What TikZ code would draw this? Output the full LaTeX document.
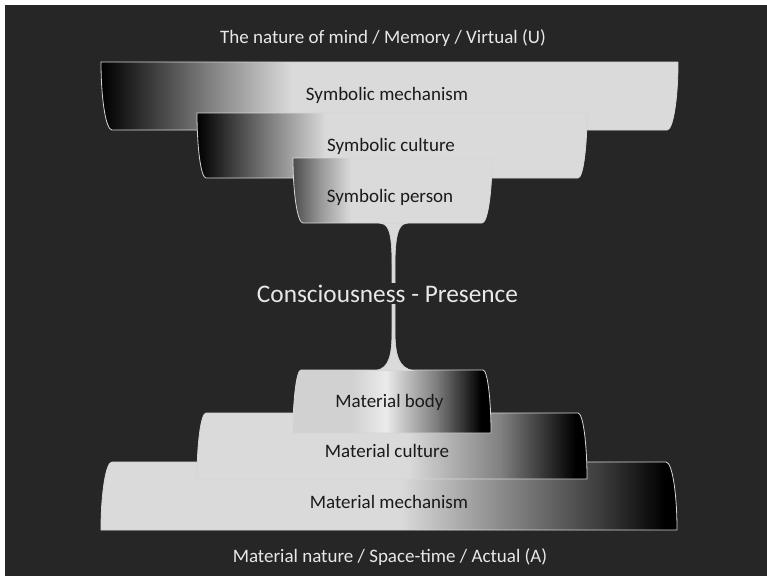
\documentclass[tikz,border=0pt]{standalone}
\usepackage{fontspec}
\setmainfont{Carlito}

\definecolor{bg}{RGB}{38,38,38}
\definecolor{slablight}{RGB}{218,218,218}
\definecolor{slabedge}{RGB}{214,214,214}
\definecolor{labeltext}{RGB}{232,232,232}
\definecolor{slabtext}{RGB}{26,26,26}

% Horizontal shadings: the path's bounding box maps onto 25bp..75bp
\pgfdeclarehorizontalshading{symwide}{100bp}{%
  color(0bp)=(black); color(25bp)=(black); color(26bp)=(black!95);
  color(34bp)=(black!52); color(41.5bp)=(slablight); color(100bp)=(slablight)}
\pgfdeclarehorizontalshading{symnarrow}{100bp}{%
  color(0bp)=(black!70); color(25bp)=(black!70);
  color(32bp)=(black!40); color(39.5bp)=(slablight); color(100bp)=(slablight)}
\pgfdeclarehorizontalshading{matwide}{100bp}{%
  color(0bp)=(slablight); color(51bp)=(slablight);
  color(59.5bp)=(black!45); color(68.5bp)=(black!77); color(74bp)=(black); color(100bp)=(black)}
\pgfdeclarehorizontalshading{matmid}{100bp}{%
  color(0bp)=(slablight); color(52bp)=(slablight);
  color(64bp)=(black!50); color(73.5bp)=(black); color(100bp)=(black)}
\pgfdeclarehorizontalshading{matnarrow}{100bp}{%
  color(0bp)=(black!18); color(40bp)=(black!18); color(48.5bp)=(black!8);
  color(52bp)=(black!20); color(61bp)=(black!50); color(72.5bp)=(black); color(100bp)=(black)}

% Slab hanging from the top: #1 left, #2 right, #3 top, #4 bottom, #5 corner inset, #6 style
\newcommand\TopSlab[6]{%
  \path[#6] (#1,#3) -- (#2,#3)
    .. controls (#2,{#3+0.552*(#4-#3)}) and ({#2-0.448*#5},#4) .. ({#2-#5},#4)
    -- ({#1+#5},#4)
    .. controls ({#1+0.448*#5},#4) and (#1,{#3+0.552*(#4-#3)}) .. cycle;}
% Slab standing on the bottom: same arguments
\newcommand\BotSlab[6]{%
  \path[#6] (#1,#4)
    .. controls (#1,{#4-0.552*(#4-#3)}) and ({#1+0.448*#5},#3) .. ({#1+#5},#3)
    -- ({#2-#5},#3)
    .. controls ({#2-0.448*#5},#3) and (#2,{#4-0.552*(#4-#3)}) .. (#2,#4)
    -- cycle;}

\begin{document}
\begin{tikzpicture}[x=1pt,y=-1pt,
  slab/.style={draw=slabedge,line width=0.8pt,shading=#1},
  stemshape/.style={fill=slablight,draw=slabedge,line width=0.6pt},
  slabtxt/.style={text=slabtext,font=\fontsize{19}{22}\selectfont,anchor=base,inner sep=0pt},
  outertxt/.style={text=labeltext,font=\fontsize{19}{22}\selectfont,anchor=base,inner sep=0pt},
  centretxt/.style={text=labeltext,font=\fontsize{25.3}{28}\selectfont,anchor=base,
    fill=bg,inner xsep=1pt,inner ysep=2pt}]
\useasboundingbox (0,0) rectangle (767,576);
\fill[white] (0,0) rectangle (767,576);
\fill[bg] (5,5) rectangle (767,576);

% symbolic side, widest first
\TopSlab{101}{678}{62}{130}{11}{slab=symwide}
\TopSlab{197}{587}{113}{178}{9}{slab=symwide}
\TopSlab{293}{492}{158}{223}{10}{slab=symnarrow}

% material side, widest first
\BotSlab{101}{677}{462}{530}{11}{slab=matwide}
\BotSlab{197}{587}{413}{479}{9}{slab=matmid}
\BotSlab{293}{491}{370}{433}{8}{slab=matnarrow}

% thin neck joining person and body
\path[stemshape] (381,223.5) .. controls (390,224) and (392,238) .. (392,266)
  -- (392,330) .. controls (392,356) and (389,368) .. (376,370.5)
  -- (413,370.5) .. controls (399,368) and (395,356) .. (395,330)
  -- (395,266) .. controls (395,238) and (398,224) .. (406,223.5) -- cycle;

% labels
\node[outertxt] (mind) at (383,43) {The nature of mind / Memory / Virtual (U)};
\node[slabtxt] (symmech) at (387,100) {Symbolic mechanism};
\node[slabtxt] (symcult) at (391,151) {Symbolic culture};
\node[slabtxt] (symperson) at (390,202) {Symbolic person};
\node[centretxt] (presence) at (387.5,302) {Consciousness - Presence};
\node[slabtxt] (matbody) at (389.5,407) {Material body};
\node[slabtxt] (matcult) at (387,457) {Material culture};
\node[slabtxt] (matmech) at (389,508) {Material mechanism};
\node[outertxt] (nature) at (390,562) {Material nature / Space-time / Actual (A)};
\end{tikzpicture}
\end{document}
